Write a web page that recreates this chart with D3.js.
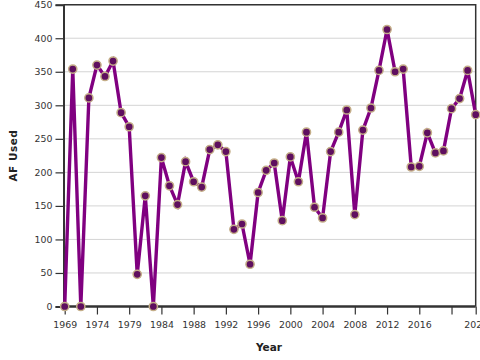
<!DOCTYPE html>
<html>
<head>
<meta charset="utf-8">
<script src="https://cdn.jsdelivr.net/npm/d3@7"></script>
<style>
  html, body { margin: 0; padding: 0; background: #fff; }
  svg { display: block; font-family: "DejaVu Sans", Verdana, sans-serif; }
</style>
</head>
<body>
<svg id="chart" width="480" height="360"></svg>
<script>
// Data
const years = [1969, 1971, 1972, 1973, 1974, 1976, 1977, 1978, 1979, 1981, 1982, 1983,
  1984, 1985, 1986, 1987, 1988, 1989, 1990, 1991, 1992, 1993, 1994, 1995,
  1996, 1997, 1998, 1999, 2000, 2001, 2002, 2003, 2004, 2005, 2006, 2007,
  2008, 2009, 2010, 2011, 2012, 2013, 2014, 2015, 2016, 2017, 2018, 2019,
  2020, 2021, 2022, 2023];
const afUsed = [0, 354, 0, 311, 360, 343, 366, 289, 268, 48, 165, 0,
  222, 180, 152, 216, 186, 178, 234, 241, 231, 115, 123, 63,
  170, 203, 214, 128, 223, 186, 260, 148, 132, 231, 260, 293,
  137, 263, 296, 352, 413, 350, 354, 208, 209, 259, 229, 232,
  295, 310, 352, 286];
const tickYears = [1969, 1974, 1979, 1984, 1988, 1992, 1996, 2000, 2004, 2008, 2012, 2016, 2020, 2023];
const tickLabels = ["1969", "1974", "1979", "1984", "1988", "1992", "1996", "2000", "2004", "2008", "2012", "2016", "", "2023"];
const yTicks = [0, 50, 100, 150, 200, 250, 300, 350, 400, 450];
const xTitle = "Year";
const yTitle = "AF Used";

(function () {
const svg = d3.select("#chart");
const pL = 63.5, pR = 475.7, pT = 4.7, pB = 306.5;

const x = d3.scalePoint().domain(years).range([64.7, 475.7]);
const y = d3.scaleLinear().domain([0, 450]).range([pB, pT]);

// gridlines
svg.append("g").selectAll("line").data(yTicks.slice(1)).join("line")
  .attr("x1", pL).attr("x2", pR)
  .attr("y1", d => y(d)).attr("y2", d => y(d))
  .attr("stroke", "#d4d4d4").attr("stroke-width", 1);

// frame (top and right)
svg.append("path")
  .attr("d", `M${pL},${pT}H${pR}V${pB}`)
  .attr("fill", "none").attr("stroke", "#333").attr("stroke-width", 1.5);

// y axis
const yAxis = svg.append("g").attr("transform", `translate(${pL},0)`)
  .call(d3.axisLeft(y).tickValues(yTicks).tickSize(8).tickPadding(3));
yAxis.select(".domain").attr("stroke", "#333").attr("stroke-width", 2);
yAxis.selectAll(".tick line").attr("stroke", "#333").attr("stroke-width", 1.2);
yAxis.selectAll(".tick text").attr("fill", "#333").style("font-size", "9.4px")
  .style("font-family", "DejaVu Sans, sans-serif");

// x axis
const xAxis = svg.append("g").attr("transform", `translate(0,${pB})`)
  .call(d3.axisBottom(x).tickValues(tickYears)
    .tickFormat(d => tickLabels[tickYears.indexOf(d)]).tickSize(8).tickPadding(7));
xAxis.select(".domain").attr("stroke", "#333").attr("stroke-width", 2.5)
  .attr("d", `M${pL},0H${pR}`);
xAxis.selectAll(".tick line").attr("stroke", "#333").attr("stroke-width", 1.2);
xAxis.selectAll(".tick text").attr("fill", "#333").style("font-size", "9.4px")
  .style("font-family", "DejaVu Sans, sans-serif");

// line
const line = d3.line().x((d, i) => x(years[i])).y(d => y(d));
svg.append("path").datum(afUsed)
  .attr("d", line)
  .attr("fill", "none")
  .attr("stroke", "#800080")
  .attr("stroke-width", 3.4)
  .attr("stroke-linejoin", "miter");

// points
svg.append("g").selectAll("circle").data(afUsed).join("circle")
  .attr("cx", (d, i) => x(years[i]))
  .attr("cy", d => y(d))
  .attr("r", 4.1)
  .attr("fill", "#5f0f5f")
  .attr("stroke", "#c4ae88")
  .attr("stroke-width", 1.5);

// titles
svg.append("text")
  .attr("x", 269).attr("y", 351)
  .attr("text-anchor", "middle")
  .attr("font-weight", "bold").attr("font-size", "10.5px").attr("fill", "#222")
  .text(xTitle);
svg.append("text")
  .attr("transform", `translate(17,${(pT + pB) / 2}) rotate(-90)`)
  .attr("text-anchor", "middle")
  .attr("font-weight", "bold").attr("font-size", "10.5px").attr("fill", "#222")
  .attr("letter-spacing", "0.5px")
  .text(yTitle);
})();
</script>
</body>
</html>
